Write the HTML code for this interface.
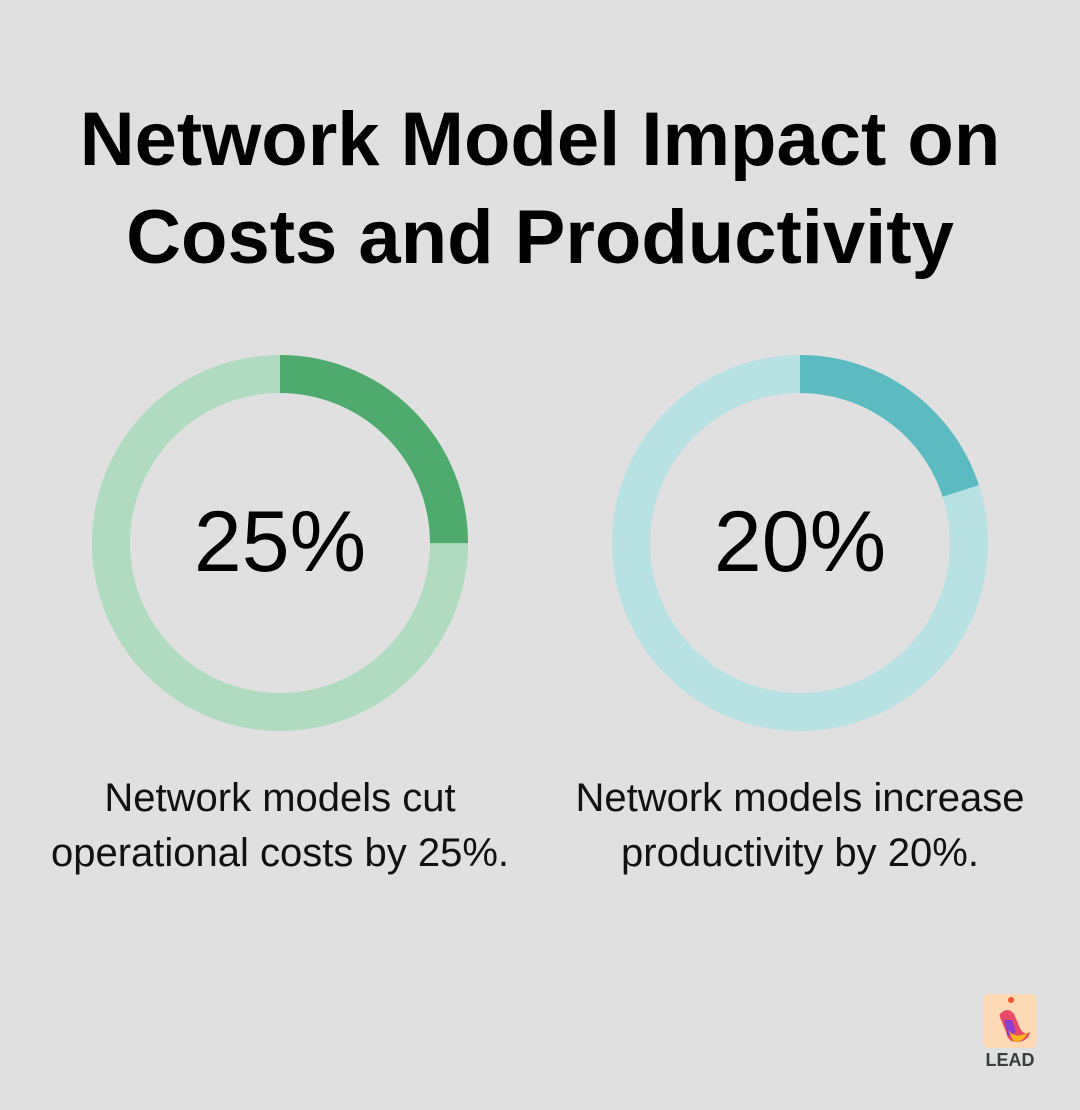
<!DOCTYPE html>
<html><head><style>
body{margin:0;width:1080px;height:1110px;background:#dfe0df;font-family:"Liberation Sans",sans-serif;position:relative;overflow:hidden}
.t{position:absolute;left:0;width:1080px;text-align:center;font-weight:bold;font-size:76px;color:#000;line-height:98px}
.c{position:absolute;width:560px;text-align:center;font-size:40px;color:#111;line-height:55px}
</style></head><body>
<div class="t" style="top:91px">Network Model Impact on<br>Costs and Productivity</div>
<svg width="1080" height="1110" style="position:absolute;left:0;top:0">
<circle cx="280" cy="543" r="169" fill="none" stroke="#b0dbc1" stroke-width="38"/>
<circle cx="280" cy="543" r="169" fill="none" stroke="#4faa6d" stroke-width="38" stroke-dasharray="265.5 2000" transform="rotate(-90 280 543)"/>
<circle cx="800" cy="543" r="169" fill="none" stroke="#b8e1e3" stroke-width="38"/>
<circle cx="800" cy="543" r="169" fill="none" stroke="#5bbbc0" stroke-width="38" stroke-dasharray="212.4 2000" transform="rotate(-90 800 543)"/>
<text x="280" y="571" text-anchor="middle" font-size="86" font-family="Liberation Sans" fill="#000">25%</text>
<text x="800" y="571" text-anchor="middle" font-size="86" font-family="Liberation Sans" fill="#000">20%</text>
<rect x="983" y="994" width="54" height="54" rx="6" fill="#fdd9b5"/>
<circle cx="1011" cy="1000" r="3" fill="#f0542a"/>
<path d="M1000 1014 q8-8 14 0 l6 14 q4 8 10 4 q-2 10 -14 10 q-8 0 -10 -10 l-4 -10 q-3 -6 -2 -8z" fill="#e94a6a"/>
<path d="M1004 1020 l8 0 l4 12 l-8 4z" fill="#8a3fd0"/>
<path d="M1008 1030 q8 10 20 2 q-4 10 -14 10z" fill="#f7b81c"/>
<text x="1010" y="1066" text-anchor="middle" font-size="18" font-weight="bold" font-family="Liberation Sans" fill="#3a3d3d">LEAD</text>
</svg>
<div class="c" style="left:0px;top:771px">Network models cut<br>operational costs by 25%.</div>
<div class="c" style="left:520px;top:771px">Network models increase<br>productivity by 20%.</div>
</body></html>
